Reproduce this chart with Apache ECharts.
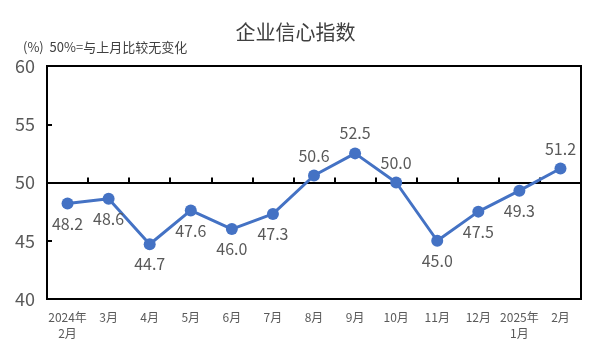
<!DOCTYPE html>
<html>
<head>
<meta charset="utf-8">
<script src="https://cdn.jsdelivr.net/npm/echarts@6/dist/echarts.min.js"></script>
<style>
  html, body { margin: 0; padding: 0; background: #fff; }
  #chart { width: 591px; height: 354px; }
</style>
</head>
<body>
<div id="chart"></div>
<script>
// 月份
const months = ['2024年\n2月', '3月', '4月', '5月', '6月', '7月', '8月', '9月', '10月', '11月', '12月', '2025年\n1月', '2月'];
// 企业信心指数
const values = [48.2, 48.6, 44.7, 47.6, 46.0, 47.3, 50.6, 52.5, 50.0, 45.0, 47.5, 49.3, 51.2];
// 标签放在点的上方还是下方
const labelPos = ['bottom', 'bottom', 'bottom', 'bottom', 'bottom', 'bottom', 'top', 'top', 'top', 'bottom', 'bottom', 'bottom', 'top'];

const font = '"Noto Sans CJK SC", sans-serif';
const chart = echarts.init(document.getElementById('chart'));

chart.setOption({
    animation: false,
    title: [
        { text: '企业信心指数', left: 'center', top: 17, textStyle: { fontSize: 20, fontWeight: 'normal', color: '#404040', fontFamily: font } },
        { text: '(%)  50%=与上月比较无变化', left: 18, top: 36, textStyle: { fontSize: 13, fontWeight: 'normal', color: '#404040', fontFamily: font } }
    ],
    grid: { left: 47, right: 10, top: 66, bottom: 55, show: true, borderColor: '#000', borderWidth: 2 },
    xAxis: [
        {
            type: 'category',
            data: months,
            axisLine: { show: false },
            axisTick: { show: false },
            axisLabel: { interval: 0, color: '#595959', fontSize: 12, fontFamily: font, lineHeight: 16, margin: 10 }
        },
        {
            // 50 处的基准线，刻度朝上
            type: 'category',
            data: months,
            position: 'bottom',
            offset: -116.5,
            axisLine: { show: true, lineStyle: { color: '#000', width: 2 } },
            axisTick: { show: true, interval: 0, inside: true, length: 5, lineStyle: { color: '#000', width: 2 } },
            axisLabel: { show: false }
        }
    ],
    yAxis: {
        type: 'value',
        min: 40,
        max: 60,
        interval: 5,
        splitLine: { show: false },
        axisLine: { show: true, lineStyle: { color: '#000', width: 2 } },
        axisTick: { show: true, inside: true, length: 5, lineStyle: { color: '#000', width: 2 } },
        axisLabel: { color: '#595959', fontSize: 18, fontFamily: font, margin: 12 }
    },
    series: [{
        type: 'line',
        data: values.map((v, i) => ({ value: v, label: { position: labelPos[i] } })),
        symbol: 'circle',
        symbolSize: 12,
        lineStyle: { color: '#4472C4', width: 3 },
        itemStyle: { color: '#4472C4' },
        label: {
            show: true,
            color: '#595959',
            fontSize: 16,
            fontFamily: font,
            distance: 6,
            formatter: p => p.value.toFixed(1)
        }
    }]
});
</script>
</body>
</html>
